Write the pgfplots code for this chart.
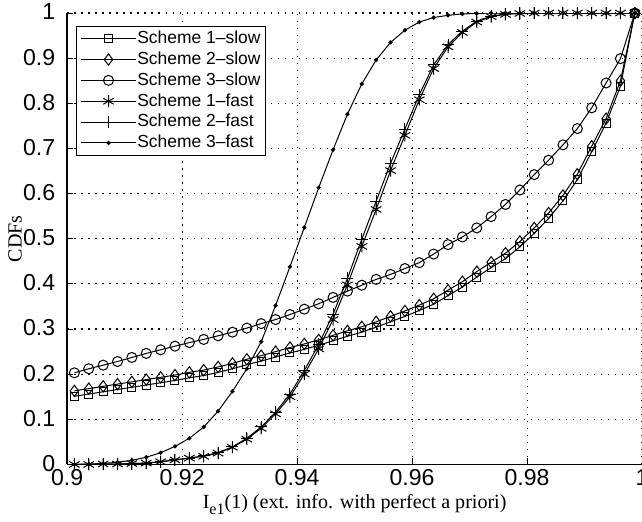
\documentclass[border=0pt]{standalone}
\usepackage{fontspec}
\setmainfont{Liberation Serif}
\newfontfamily\sansf{Liberation Sans}[Ligatures=TeX]
\usepackage{pgfplots}
\pgfplotsset{compat=1.18}
\usepackage{pgfplotstable}

\pgfplotstableread{
x       s1s    s2s    s3s    s1f    s2f    s3f
0.90125 0.151  0.163  0.203  0.000  0.000  0.000
0.90375 0.156  0.168  0.212  0.000  0.000  0.001
0.90625 0.161  0.173  0.220  0.001  0.001  0.002
0.90875 0.166  0.178  0.228  0.001  0.001  0.005
0.91125 0.171  0.183  0.237  0.002  0.002  0.009
0.91375 0.176  0.188  0.246  0.003  0.003  0.016
0.91625 0.181  0.193  0.254  0.006  0.006  0.026
0.91875 0.186  0.198  0.262  0.010  0.010  0.040
0.92125 0.192  0.204  0.270  0.014  0.014  0.058
0.92375 0.197  0.209  0.277  0.018  0.019  0.083
0.92625 0.204  0.216  0.285  0.025  0.026  0.118
0.92875 0.212  0.224  0.293  0.038  0.039  0.162
0.93125 0.221  0.233  0.302  0.056  0.058  0.212
0.93375 0.229  0.241  0.312  0.080  0.083  0.272
0.93625 0.238  0.250  0.321  0.112  0.116  0.352
0.93875 0.247  0.259  0.332  0.150  0.156  0.438
0.94125 0.255  0.267  0.344  0.200  0.208  0.525
0.94375 0.264  0.276  0.356  0.256  0.266  0.613
0.94625 0.274  0.286  0.370  0.321  0.333  0.697
0.94875 0.284  0.296  0.384  0.398  0.412  0.776
0.95125 0.293  0.305  0.397  0.483  0.499  0.843
0.95375 0.304  0.316  0.410  0.565  0.583  0.896
0.95625 0.316  0.328  0.421  0.651  0.667  0.935
0.95875 0.328  0.340  0.434  0.729  0.743  0.962
0.96125 0.341  0.353  0.447  0.808  0.819  0.980
0.96375 0.355  0.367  0.466  0.877  0.885  0.990
0.96625 0.374  0.386  0.487  0.925  0.930  0.995
0.96875 0.393  0.405  0.504  0.957  0.960  0.998
0.97125 0.415  0.427  0.524  0.980  0.982  0.999
0.97375 0.436  0.448  0.549  0.992  0.993  1.000
0.97625 0.456  0.468  0.576  0.997  0.998  1.000
0.97875 0.482  0.494  0.608  0.999  0.999  1.000
0.98125 0.512  0.524  0.642  1.000  1.000  1.000
0.98375 0.545  0.557  0.674  1.000  1.000  1.000
0.98625 0.584  0.596  0.708  1.000  1.000  1.000
0.98875 0.631  0.643  0.744  1.000  1.000  1.000
0.99125 0.693  0.705  0.790  1.000  1.000  1.000
0.99375 0.756  0.766  0.845  1.000  1.000  1.000
0.99625 0.838  0.850  0.899  1.000  1.000  1.000
0.99875 1.000  1.000  1.000  1.000  1.000  1.000
}\data

\begin{document}
\begin{tikzpicture}[trim axis right]
\begin{axis}[
  scale only axis,
  width=286.5pt, height=225pt,
  xmin=0.9, xmax=1, ymin=0, ymax=1,
  xtick={0.9,0.92,0.94,0.96,0.98,1},
  xticklabels={0.9,0.92,0.94,0.96,0.98,1},
  ytick={0,0.1,0.2,0.3,0.4,0.5,0.6,0.7,0.8,0.9,1},
  yticklabels={0,0.1,0.2,0.3,0.4,0.5,0.6,0.7,0.8,0.9,1},
  ticklabel style={font=\sansf\fontsize{11.5}{13}\selectfont, inner sep=1pt},
  yticklabel style={xshift=-4.8pt, yshift=0.5pt},
  xticklabel style={yshift=-1.3pt},
  axis lines*=left,
  axis line style={line width=0.9pt},
  tick align=inside,
  major tick length=3pt,
  tick style={black, line width=0.5pt},
  grid=major,
  major grid style={black, line width=0.55pt, dash pattern=on 0.7pt off 2.8pt},
  xlabel={I\raisebox{-0.3em}{\fontsize{8}{9}\selectfont e1}(1) (ext. info. with perfect a priori)},
  ylabel={CDFs},
  every axis x label/.style={at={(rel axis cs:0.5,0)}, anchor=base, yshift=-22pt},
  every axis y label/.style={at={(rel axis cs:0,0.5)}, xshift=-26pt, rotate=90, anchor=center},
  label style={font=\fontsize{10}{12}\selectfont},
  legend cell align=left,
  legend style={at={(0.016,0.972)}, anchor=north west, draw=black, line width=0.5pt,
    font=\sansf\fontsize{8.7}{10}\selectfont, inner xsep=2pt, inner ysep=1pt, row sep=0pt,
    nodes={inner sep=0.6pt, text height=7pt, text depth=2.2pt}},
  legend image code/.code={\draw[mark repeat=2,mark phase=2,#1] plot coordinates {(0pt,0pt) (13.5pt,0pt) (27pt,0pt)};},
  every axis plot/.append style={black, line width=0.5pt, mark options={solid}},
]
\addplot[mark=square, mark size=2pt] table[x=x,y=s1s]{\data};
\addlegendentry{Scheme 1--slow}
\addplot[mark=diamond, mark size=2.8pt] table[x=x,y=s2s]{\data};
\addlegendentry{Scheme 2--slow}
\addplot[mark=o, mark size=2.5pt] table[x=x,y=s3s]{\data};
\addlegendentry{Scheme 3--slow}
\addplot[mark=asterisk, mark size=3pt] table[x=x,y=s1f]{\data};
\addlegendentry{Scheme 1--fast}
\addplot[mark=+, mark size=3pt] table[x=x,y=s2f]{\data};
\addlegendentry{Scheme 2--fast}
\addplot[mark=*, mark size=0.8pt] table[x=x,y=s3f]{\data};
\addlegendentry{Scheme 3--fast}
\end{axis}
\path ([xshift=-33.5pt,yshift=-27.5pt]current axis.south west) -- ([xshift=-33.5pt,yshift=6.5pt]current axis.north west);
\end{tikzpicture}
\end{document}
